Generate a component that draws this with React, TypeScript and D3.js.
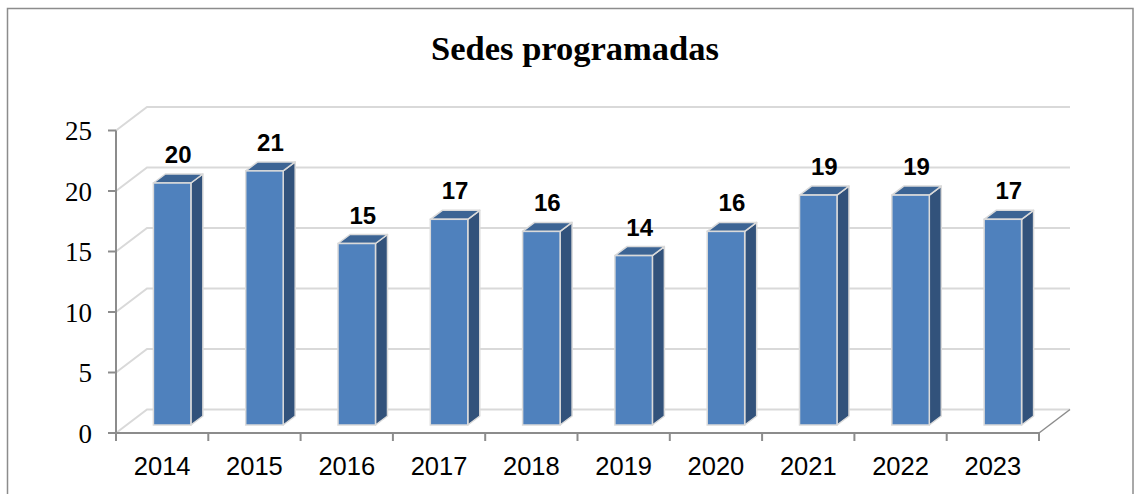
import React, { useEffect, useRef } from 'react';
import * as d3 from 'd3';

// chart data
const years = ['2014', '2015', '2016', '2017', '2018', '2019', '2020', '2021', '2022', '2023'];
const sedes = [20, 21, 15, 17, 16, 14, 16, 19, 19, 17];
const yTicks = [0, 5, 10, 15, 20, 25];
const title = 'Sedes programadas';

const W = 1134;
const H = 494;

const App = () => {
  const svgRef = useRef<SVGSVGElement | null>(null);

  useEffect(() => {
    const svg = d3.select(svgRef.current);
    svg.selectAll('*').remove();

    // plot geometry (front plane + depth of the 3d box)
    const left = 116;
    const right = 1039;
    const DX = 31;
    const DY = -23.5;

    const x = d3.scaleBand<string>().domain(years).range([left, right]).padding(0);
    const y = d3.scaleLinear().domain([0, 25]).range([433, 130.5]);

    // outer frame
    svg.append('rect')
      .attr('x', 7.5)
      .attr('y', 8.5)
      .attr('width', 1125.5)
      .attr('height', 600)
      .attr('fill', 'white')
      .attr('stroke', '#8c8c8c')
      .attr('stroke-width', 1.5);

    // title
    svg.append('text')
      .attr('x', 575)
      .attr('y', 60)
      .attr('text-anchor', 'middle')
      .style('font-family', '"Liberation Serif", serif')
      .style('font-weight', 'bold')
      .style('font-size', '34.5px')
      .text(title);

    // gridlines on side wall and back wall
    const grid = svg.append('g');
    yTicks.forEach((v) => {
      const yy = y(v);
      grid.append('polyline')
        .attr('points', `${left},${yy} ${left + DX},${yy + DY} ${right + DX},${yy + DY}`)
        .attr('fill', 'none')
        .attr('stroke', '#d9d9d9')
        .attr('stroke-width', 2);
    });

    // floor right edge
    svg.append('line')
      .attr('x1', right).attr('y1', y(0))
      .attr('x2', right + DX).attr('y2', y(0) + DY)
      .attr('stroke', '#8c8c8c')
      .attr('stroke-width', 1.5);

    // axes
    const axisColor = '#8c8c8c';
    svg.append('line')
      .attr('x1', left).attr('y1', y(25))
      .attr('x2', left).attr('y2', y(0))
      .attr('stroke', axisColor).attr('stroke-width', 2);
    svg.append('line')
      .attr('x1', left).attr('y1', y(0))
      .attr('x2', right).attr('y2', y(0))
      .attr('stroke', axisColor).attr('stroke-width', 2);

    yTicks.forEach((v) => {
      svg.append('line')
        .attr('x1', left - 8).attr('y1', y(v))
        .attr('x2', left).attr('y2', y(v))
        .attr('stroke', axisColor).attr('stroke-width', 2);
      svg.append('text')
        .attr('x', 92)
        .attr('y', y(v))
        .attr('dy', '0.36em')
        .attr('text-anchor', 'end')
        .style('font-family', '"Liberation Serif", serif')
        .style('font-size', '27px')
        .text(v);
    });

    const bw = x.bandwidth();
    [...years.map((yr) => x(yr) as number), right].forEach((tx) => {
      svg.append('line')
        .attr('x1', tx).attr('y1', y(0))
        .attr('x2', tx).attr('y2', y(0) + 8)
        .attr('stroke', axisColor).attr('stroke-width', 2);
    });

    years.forEach((yr) => {
      svg.append('text')
        .attr('x', (x(yr) as number) + bw / 2)
        .attr('y', 475)
        .attr('text-anchor', 'middle')
        .style('font-family', '"Liberation Sans", Arial, sans-serif')
        .style('font-size', '25.5px')
        .text(yr);
    });

    // 3d bars
    const barW = bw * 0.406;
    const fx = 10;
    const fy = -8;
    const sx = 12;
    const sy = -9;
    const edge = '#dadada';

    const bars = svg.append('g');
    years.forEach((yr, i) => {
      const v = sedes[i];
      const xl = (x(yr) as number) + bw / 2 - barW / 2 + fx;
      const xr = xl + barW;
      const top = y(v) + fy;
      const bot = y(0) + fy;

      bars.append('polygon')
        .attr('points', `${xr},${top} ${xr + sx},${top + sy} ${xr + sx},${bot + sy} ${xr},${bot}`)
        .attr('fill', '#32527b')
        .attr('stroke', edge).attr('stroke-width', 1.5).attr('stroke-linejoin', 'round');
      bars.append('polygon')
        .attr('points', `${xl},${top} ${xl + sx},${top + sy} ${xr + sx},${top + sy} ${xr},${top}`)
        .attr('fill', '#3c6494')
        .attr('stroke', edge).attr('stroke-width', 1.5).attr('stroke-linejoin', 'round');
      bars.append('rect')
        .attr('x', xl).attr('y', top)
        .attr('width', barW).attr('height', bot - top)
        .attr('fill', '#4f81bd')
        .attr('stroke', edge).attr('stroke-width', 1.5);

      svg.append('text')
        .attr('x', xl + barW / 2 + 6)
        .attr('y', top - 20)
        .attr('text-anchor', 'middle')
        .style('font-family', '"Liberation Sans", Arial, sans-serif')
        .style('font-weight', 'bold')
        .style('font-size', '24px')
        .text(v);
    });
  }, []);

  return (
    <svg
      ref={svgRef}
      width={W}
      height={H}
      style={{ position: 'absolute', left: 0, top: 0, background: 'white' }}
    />
  );
};

export default App;
